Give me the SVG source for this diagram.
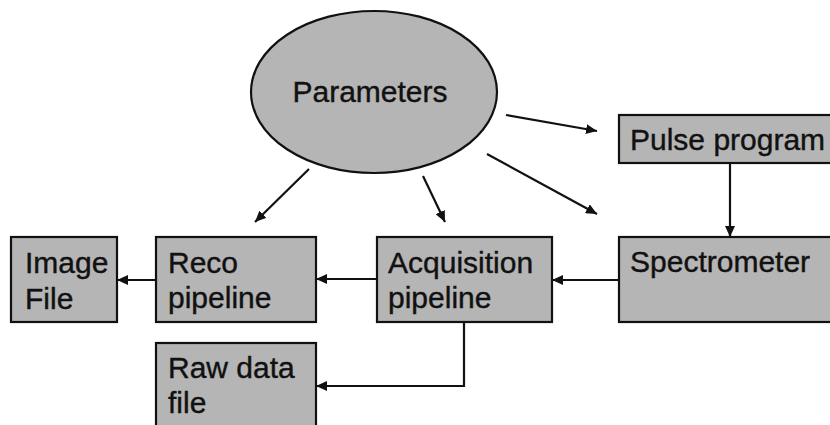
<svg xmlns="http://www.w3.org/2000/svg" width="830" height="425" viewBox="0 0 830 425">
<style>
.box{fill:#b5b5b5;stroke:#111;stroke-width:2.2}
.lbl{font-family:"Liberation Sans",Arial,sans-serif;font-size:30px;fill:#111;stroke:#111;stroke-width:0.4}
.con{fill:none;stroke:#111;stroke-width:2.2}
</style>
<defs>
<marker id="ah" markerUnits="userSpaceOnUse" markerWidth="12" markerHeight="10" refX="11" refY="5" orient="auto">
<path d="M0,0 L11,5 L0,10 Z" fill="#111"/>
</marker>
</defs>
<rect width="830" height="425" fill="#fff"/>
<g id="parameters">
<ellipse class="box" cx="374" cy="92" rx="123" ry="81"/>
<text class="lbl" x="370" y="102" text-anchor="middle" font-size="31.5">Parameters</text>
</g>
<g id="pulse-program">
<rect class="box" x="619" y="115" width="220" height="48"/>
<text class="lbl" x="630" y="150">Pulse program</text>
</g>
<g id="spectrometer">
<rect class="box" x="619" y="237" width="220" height="85"/>
<text class="lbl" x="630" y="272">Spectrometer</text>
</g>
<g id="acquisition-pipeline">
<rect class="box" x="377" y="237" width="175" height="85"/>
<text class="lbl" x="388" y="273">Acquisition</text>
<text class="lbl" x="388" y="308">pipeline</text>
</g>
<g id="reco-pipeline">
<rect class="box" x="156" y="237" width="160" height="85"/>
<text class="lbl" x="168" y="273">Reco</text>
<text class="lbl" x="168" y="308">pipeline</text>
</g>
<g id="image-file">
<rect class="box" x="11" y="237" width="106" height="85"/>
<text class="lbl" x="25" y="273">Image</text>
<text class="lbl" x="25" y="309">File</text>
</g>
<g id="raw-data-file">
<rect class="box" x="156" y="343" width="160" height="90"/>
<text class="lbl" x="168" y="378">Raw data</text>
<text class="lbl" x="168" y="413">file</text>
</g>
<g id="connectors">
<line class="con" x1="730" y1="163" x2="730" y2="237" marker-end="url(#ah)"/>
<line class="con" x1="619" y1="280" x2="552" y2="280" marker-end="url(#ah)"/>
<line class="con" x1="377" y1="279" x2="316" y2="279" marker-end="url(#ah)"/>
<line class="con" x1="156" y1="280" x2="117" y2="280" marker-end="url(#ah)"/>
<polyline class="con" points="464,322 464,386 316,386" marker-end="url(#ah)"/>
<line class="con" x1="309" y1="169" x2="255" y2="222" marker-end="url(#ah)"/>
<line class="con" x1="423" y1="176" x2="445" y2="222" marker-end="url(#ah)"/>
<line class="con" x1="487" y1="154" x2="597" y2="214" marker-end="url(#ah)"/>
<line class="con" x1="506" y1="115" x2="597" y2="131" marker-end="url(#ah)"/>
</g>
</svg>
